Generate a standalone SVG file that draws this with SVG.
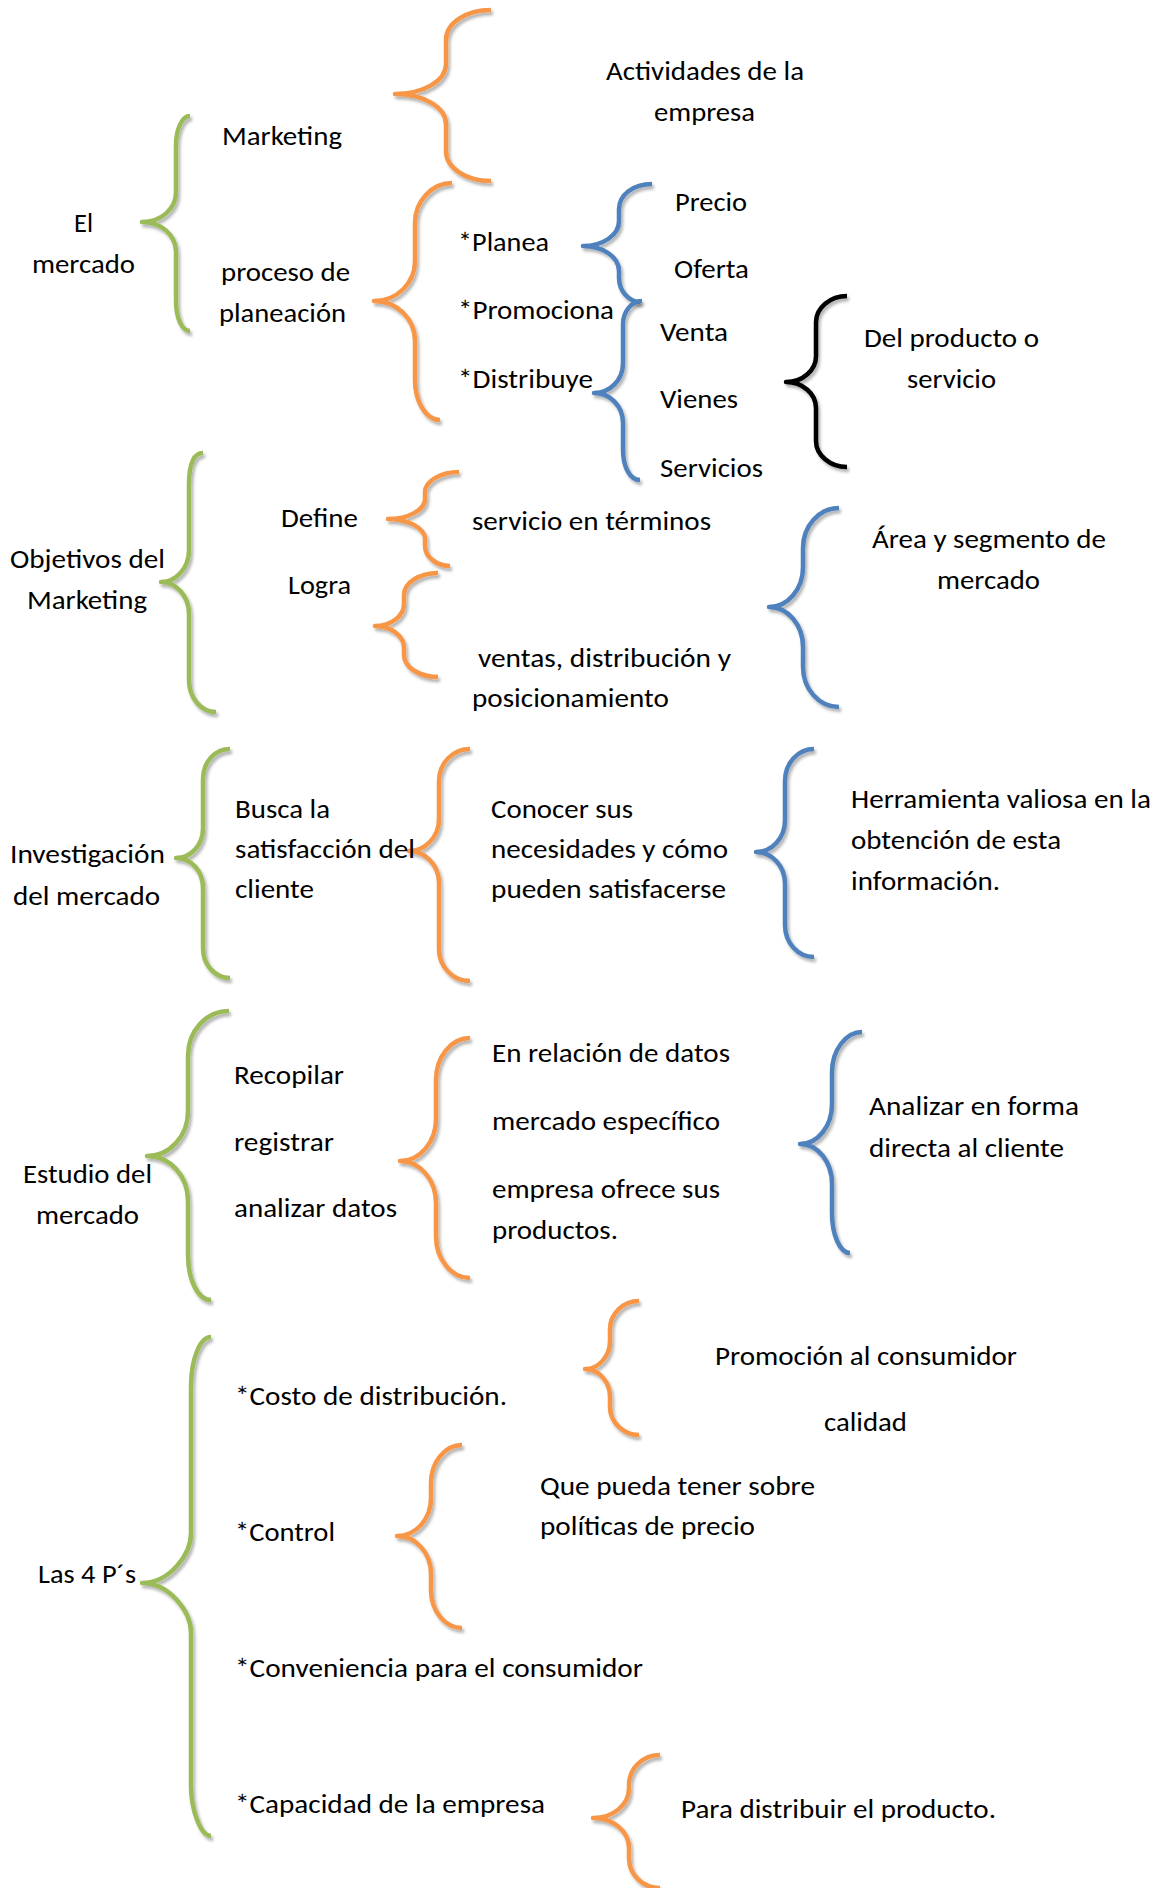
<svg xmlns="http://www.w3.org/2000/svg" width="1162" height="1888" viewBox="0 0 1162 1888">
<style>
.t{font-family:Carlito,Calibri,Lato,"Open Sans",sans-serif;font-size:27px;fill:#000}
.b{fill:none;stroke-width:4.5;stroke-linecap:butt;stroke-linejoin:round;filter:url(#sh)}
.o{stroke:#F79646}.g{stroke:#9BBB59}.u{stroke:#4F81BD}.k{stroke:#000}
</style>
<defs>
<filter id="sh" x="-30%" y="-10%" width="160%" height="120%">
<feDropShadow dx="2" dy="3" stdDeviation="1.5" flood-color="#000" flood-opacity="0.3"/>
</filter>
</defs>
<rect width="1162" height="1888" fill="#fff"/>
<g id="connectors">
<path class="b o" d="M491 10 C466 10 446 23 446 40 L446 64 C446 81 423 94 395 94 C423 94 446 107 446 124 L446 151 C446 168 466 181 491 181"/>
<path class="b g" d="M190 116 C182 116 176 129 176 146 L176 192 C176 209 161 222 142 222 C161 222 176 235 176 252 L176 301 C176 318 182 331 190 331"/>
<path class="b o" d="M452 183 C432 183 415 201 415 223 L415 261 C415 283 397 301 374 301 C397 301 415 319 415 341 L415 380 C415 402 426 420 440 420"/>
<path class="b u" d="M652 184 C633 184 619 195 619 209 L619 221 C619 235 603 246 583 246 C603 246 619 257 619 271 L619 278 C619 292 630 302 640 302"/>
<path class="b u" d="M642 301 C632 301 623 311 623 324 L623 363 C623 380 610 393 594 393 C610 393 623 406 623 423 L623 450 C623 467 630 480 640 480"/>
<path class="b k" d="M847 296 C830 296 816 308 816 322 L816 356 C816 370 803 382 786 382 C803 382 816 394 816 408 L816 441 C816 455 830 467 847 467"/>
<path class="b g" d="M203 453 C195 453 189 461 189 485 L189 550 C189 568 176 582 161 582 C176 582 189 596 189 614 L189 680 C189 698 201 712 216 712"/>
<path class="b o" d="M459 472 C441 472 425 481 425 492 L425 499 C425 510 408 519 388 519 C408 519 425 528 425 539 L425 546 C425 557 437 566 450 566"/>
<path class="b o" d="M438 573 C419 573 404 583 404 595 L404 604 C404 616 391 626 375 626 C391 626 404 636 404 648 L404 655 C404 667 419 677 438 677"/>
<path class="b u" d="M839 508 C819 508 803 526 803 548 L803 567 C803 589 788 607 769 607 C788 607 803 625 803 647 L803 667 C803 689 819 707 839 707"/>
<path class="b g" d="M230 749 C215 749 203 762 203 779 L203 828 C203 845 191 858 176 858 C191 858 203 871 203 888 L203 948 C203 965 215 978 230 978"/>
<path class="b o" d="M470 749 C453 749 439 763 439 781 L439 819 C439 837 425 851 409 851 C425 851 439 865 439 883 L439 949 C439 967 453 981 470 981"/>
<path class="b u" d="M814 749 C798 749 785 763 785 781 L785 820 C785 838 772 852 756 852 C772 852 785 866 785 884 L785 925 C785 943 798 957 814 957"/>
<path class="b g" d="M229 1011 C206 1011 188 1031 188 1056 L188 1111 C188 1136 170 1156 147 1156 C170 1156 188 1176 188 1201 L188 1255 C188 1280 198 1300 211 1300"/>
<path class="b o" d="M470 1038 C451 1038 436 1057 436 1080 L436 1119 C436 1142 420 1161 400 1161 C420 1161 436 1180 436 1203 L436 1236 C436 1259 451 1278 470 1278"/>
<path class="b u" d="M862 1032 C846 1032 832 1050 832 1072 L832 1104 C832 1126 818 1144 800 1144 C818 1144 832 1162 832 1184 L832 1213 C832 1235 840 1253 850 1253"/>
<path class="b g" d="M211 1337 C200 1337 191 1359 191 1387 L191 1533 C191 1555 169 1583 142 1583 C169 1583 191 1611 191 1633 L191 1786 C191 1808 200 1836 211 1836"/>
<path class="b o" d="M639 1301 C623 1301 610 1314 610 1329 L610 1341 C610 1356 599 1369 585 1369 C599 1369 610 1382 610 1397 L610 1407 C610 1422 623 1435 639 1435"/>
<path class="b o" d="M462 1445 C445 1445 431 1462 431 1483 L431 1498 C431 1519 416 1536 397 1536 C416 1536 431 1553 431 1574 L431 1590 C431 1611 445 1628 462 1628"/>
<path class="b o" d="M660 1755 C643 1755 629 1768 629 1785 L629 1788 C629 1805 613 1818 593 1818 C613 1818 629 1831 629 1848 L629 1858 C629 1875 643 1888 660 1888"/>
</g>
<g id="n-actividades"><text class="t" x="606" y="80" textLength="198" lengthAdjust="spacingAndGlyphs">Actividades de la</text><text class="t" x="654" y="121" textLength="101" lengthAdjust="spacingAndGlyphs">empresa</text></g>
<g id="n-marketing"><text class="t" x="222" y="145" textLength="120" lengthAdjust="spacingAndGlyphs">Marketing</text></g>
<g id="n-el-mercado"><text class="t" x="74" y="232" textLength="19" lengthAdjust="spacingAndGlyphs">El</text><text class="t" x="32" y="273" textLength="103" lengthAdjust="spacingAndGlyphs">mercado</text></g>
<g id="n-proceso"><text class="t" x="221" y="281" textLength="129" lengthAdjust="spacingAndGlyphs">proceso de</text><text class="t" x="219" y="322" textLength="127" lengthAdjust="spacingAndGlyphs">planeación</text></g>
<g id="n-acciones"><text class="t" x="458" y="251" textLength="91" lengthAdjust="spacingAndGlyphs">*Planea</text><text class="t" x="458" y="319" textLength="156" lengthAdjust="spacingAndGlyphs">*Promociona</text><text class="t" x="458" y="388" textLength="135" lengthAdjust="spacingAndGlyphs">*Distribuye</text></g>
<g id="n-precio"><text class="t" x="675" y="211" textLength="72" lengthAdjust="spacingAndGlyphs">Precio</text><text class="t" x="674" y="278" textLength="75" lengthAdjust="spacingAndGlyphs">Oferta</text></g>
<g id="n-venta"><text class="t" x="660" y="341" textLength="68" lengthAdjust="spacingAndGlyphs">Venta</text><text class="t" x="660" y="408" textLength="78" lengthAdjust="spacingAndGlyphs">Vienes</text><text class="t" x="660" y="477" textLength="103" lengthAdjust="spacingAndGlyphs">Servicios</text></g>
<g id="n-producto"><text class="t" x="864" y="347" textLength="175" lengthAdjust="spacingAndGlyphs">Del producto o</text><text class="t" x="907" y="388" textLength="89" lengthAdjust="spacingAndGlyphs">servicio</text></g>
<g id="n-objetivos"><text class="t" x="10" y="568" textLength="155" lengthAdjust="spacingAndGlyphs">Objetivos del</text><text class="t" x="27" y="609" textLength="120" lengthAdjust="spacingAndGlyphs">Marketing</text></g>
<g id="n-define"><text class="t" x="281" y="527" textLength="77" lengthAdjust="spacingAndGlyphs">Define</text><text class="t" x="288" y="594" textLength="63" lengthAdjust="spacingAndGlyphs">Logra</text></g>
<g id="n-servicio"><text class="t" x="472" y="530" textLength="239" lengthAdjust="spacingAndGlyphs">servicio en términos</text></g>
<g id="n-ventas"><text class="t" x="478" y="667" textLength="253" lengthAdjust="spacingAndGlyphs">ventas, distribución y</text><text class="t" x="472" y="707" textLength="197" lengthAdjust="spacingAndGlyphs">posicionamiento</text></g>
<g id="n-area"><text class="t" x="872" y="548" textLength="234" lengthAdjust="spacingAndGlyphs">Área y segmento de</text><text class="t" x="937" y="589" textLength="103" lengthAdjust="spacingAndGlyphs">mercado</text></g>
<g id="n-investigacion"><text class="t" x="10" y="863" textLength="155" lengthAdjust="spacingAndGlyphs">Investigación</text><text class="t" x="13" y="905" textLength="147" lengthAdjust="spacingAndGlyphs">del mercado</text></g>
<g id="n-busca"><text class="t" x="235" y="818" textLength="95" lengthAdjust="spacingAndGlyphs">Busca la</text><text class="t" x="235" y="858" textLength="180" lengthAdjust="spacingAndGlyphs">satisfacción del</text><text class="t" x="235" y="898" textLength="79" lengthAdjust="spacingAndGlyphs">cliente</text></g>
<g id="n-conocer"><text class="t" x="491" y="818" textLength="142" lengthAdjust="spacingAndGlyphs">Conocer sus</text><text class="t" x="491" y="858" textLength="237" lengthAdjust="spacingAndGlyphs">necesidades y cómo</text><text class="t" x="491" y="898" textLength="235" lengthAdjust="spacingAndGlyphs">pueden satisfacerse</text></g>
<g id="n-herramienta"><text class="t" x="851" y="808" textLength="300" lengthAdjust="spacingAndGlyphs">Herramienta valiosa en la</text><text class="t" x="851" y="849" textLength="210" lengthAdjust="spacingAndGlyphs">obtención de esta</text><text class="t" x="851" y="890" textLength="149" lengthAdjust="spacingAndGlyphs">información.</text></g>
<g id="n-estudio"><text class="t" x="23" y="1183" textLength="129" lengthAdjust="spacingAndGlyphs">Estudio del</text><text class="t" x="36" y="1224" textLength="103" lengthAdjust="spacingAndGlyphs">mercado</text></g>
<g id="n-recopilar"><text class="t" x="234" y="1084" textLength="110" lengthAdjust="spacingAndGlyphs">Recopilar</text><text class="t" x="234" y="1151" textLength="100" lengthAdjust="spacingAndGlyphs">registrar</text><text class="t" x="234" y="1217" textLength="163" lengthAdjust="spacingAndGlyphs">analizar datos</text></g>
<g id="n-relacion"><text class="t" x="492" y="1062" textLength="238" lengthAdjust="spacingAndGlyphs">En relación de datos</text><text class="t" x="492" y="1130" textLength="228" lengthAdjust="spacingAndGlyphs">mercado específico</text><text class="t" x="492" y="1198" textLength="228" lengthAdjust="spacingAndGlyphs">empresa ofrece sus</text><text class="t" x="492" y="1239" textLength="126" lengthAdjust="spacingAndGlyphs">productos.</text></g>
<g id="n-analizar"><text class="t" x="869" y="1115" textLength="210" lengthAdjust="spacingAndGlyphs">Analizar en forma</text><text class="t" x="869" y="1157" textLength="195" lengthAdjust="spacingAndGlyphs">directa al cliente</text></g>
<g id="n-4ps"><text class="t" x="38" y="1583" textLength="98" lengthAdjust="spacingAndGlyphs">Las 4 P´s</text></g>
<g id="n-items"><text class="t" x="235" y="1405" textLength="272" lengthAdjust="spacingAndGlyphs">*Costo de distribución.</text><text class="t" x="235" y="1541" textLength="100" lengthAdjust="spacingAndGlyphs">*Control</text><text class="t" x="235" y="1677" textLength="408" lengthAdjust="spacingAndGlyphs">*Conveniencia para el consumidor</text><text class="t" x="235" y="1813" textLength="310" lengthAdjust="spacingAndGlyphs">*Capacidad de la empresa</text></g>
<g id="n-promocion"><text class="t" x="715" y="1365" textLength="302" lengthAdjust="spacingAndGlyphs">Promoción al consumidor</text><text class="t" x="824" y="1431" textLength="83" lengthAdjust="spacingAndGlyphs">calidad</text></g>
<g id="n-politicas"><text class="t" x="540" y="1495" textLength="275" lengthAdjust="spacingAndGlyphs">Que pueda tener sobre</text><text class="t" x="540" y="1535" textLength="215" lengthAdjust="spacingAndGlyphs">políticas de precio</text></g>
<g id="n-distribuir"><text class="t" x="681" y="1818" textLength="315" lengthAdjust="spacingAndGlyphs">Para distribuir el producto.</text></g>
</svg>
